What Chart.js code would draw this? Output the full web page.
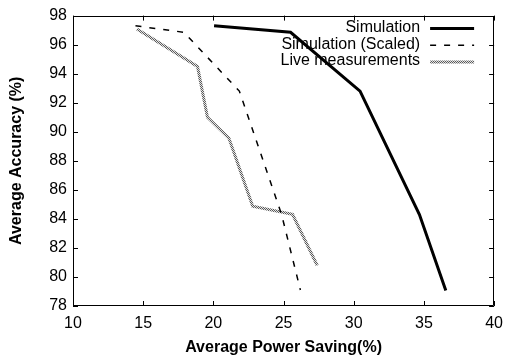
<!DOCTYPE html>
<html>
	<head>
		<meta charset="UTF-8">
		<title>Accuracy vs Power Saving</title>
		<script src="https://cdn.jsdelivr.net/npm/chart.js"></script>
		<style>
			*{margin:0; padding:0;}
			body{background:#fff;}
			#wrap{width:511px; height:358px;}
		</style>
	</head>
	<body>
		<div id="wrap"><canvas id="myChart" width="511" height="358"></canvas></div>
		<script>
			// data
			const seriesNames = ["Simulation", "Simulation (Scaled)", "Live measurements"];
			const simX = [20.05, 25.5, 30.45, 34.68, 36.56];
			const simY = [97.3, 96.85, 92.8, 84.3, 79.07];
			const scaledX = [14.45, 17.9, 21.85, 24.86, 26.2];
			const scaledY = [97.3, 96.85, 92.8, 84.3, 79.1];
			const liveX = [14.55, 18.87, 19.58, 21.11, 22.8, 25.64, 27.4];
			const liveY = [97.08, 94.5, 91.0, 89.55, 84.87, 84.31, 80.79];
			const xTickLabels = [10, 15, 20, 25, 30, 35, 40];
			const yTickLabels = [78, 80, 82, 84, 86, 88, 90, 92, 94, 96, 98];

			const FONT = "'Liberation Sans', Arial, Helvetica, sans-serif";

			function pts(xs, ys){
				let out = [];
				for(let i=0; i<xs.length; i++){
					out.push({x: xs[i], y: ys[i]});
				}
				return out;
			}

			// grey textured line like gnuplot's
			const pc = document.createElement('canvas');
			pc.width = 2; pc.height = 2;
			const pctx = pc.getContext('2d');
			pctx.fillStyle = '#e4e4e4'; pctx.fillRect(0,0,2,2);
			pctx.fillStyle = '#5a5a5a'; pctx.fillRect(0,0,1,1); pctx.fillRect(1,1,1,1);
			const livePattern = pctx.createPattern(pc, 'repeat');

			const styles = [
				{color:'#000', width:3, dash:[]},
				{color:'#000', width:1.5, dash:[6,8]},
				{color:livePattern, width:3, dash:[]}
			];

			// border on all four sides with inward ticks
			const framePlugin = {
				id: 'frame',
				afterDraw(chart){
					const c = chart.ctx, a = chart.chartArea;
					const xs = chart.scales.x, ys = chart.scales.y;
					c.save();
					c.strokeStyle = '#000';
					c.lineWidth = 1;
					c.beginPath();
					c.rect(Math.round(a.left)+0.5, Math.round(a.top)+0.5, Math.round(a.right-a.left)-1, Math.round(a.bottom-a.top)-1);
					xTickLabels.forEach(function(v){
						const px = Math.round(xs.getPixelForValue(v))+0.5;
						c.moveTo(px, a.bottom); c.lineTo(px, a.bottom-5);
						c.moveTo(px, a.top); c.lineTo(px, a.top+5);
					});
					yTickLabels.forEach(function(v){
						const py = Math.round(ys.getPixelForValue(v))+0.5;
						c.moveTo(a.left, py); c.lineTo(a.left+5, py);
						c.moveTo(a.right, py); c.lineTo(a.right-5, py);
					});
					c.stroke();
					c.restore();
				}
			};

			// legend top right inside the plot, text right aligned
			const keyPlugin = {
				id: 'key',
				beforeDatasetsDraw(chart){
					const c = chart.ctx, a = chart.chartArea;
					const textRight = a.right - 74;
					const lineL = a.right - 64, lineR = a.right - 20;
					c.save();
					c.font = '16px ' + FONT;
					c.textAlign = 'right';
					c.textBaseline = 'middle';
					seriesNames.forEach(function(name, i){
						const y = a.top + 12 + i*16.7;
						c.fillStyle = '#000';
						c.fillText(name, textRight, y);
						c.strokeStyle = styles[i].color;
						c.lineWidth = styles[i].width;
						c.setLineDash(styles[i].dash);
						c.beginPath();
						c.moveTo(lineL, y+1); c.lineTo(lineR, y+1);
						c.stroke();
					});
					c.restore();
				}
			};

			const sets = [pts(simX, simY), pts(scaledX, scaledY), pts(liveX, liveY)];

			new Chart(document.getElementById('myChart'), {
				type: 'scatter',
				data: {
					datasets: sets.map(function(d, i){
						return {
							label: seriesNames[i],
							data: d,
							showLine: true,
							borderColor: styles[i].color,
							borderWidth: styles[i].width,
							borderDash: styles[i].dash,
							pointRadius: 0,
							tension: 0,
							fill: false
						};
					})
				},
				options: {
					responsive: false,
					animation: false,
					devicePixelRatio: 1,
					layout: {padding: {left:0, top:7, right:14, bottom:0}},
					plugins: {legend:{display:false}, tooltip:{enabled:false}, title:{display:false}},
					scales: {
						x: {
							type: 'linear', min: 10, max: 40,
							afterBuildTicks: function(s){ s.ticks = xTickLabels.map(function(v){ return {value:v}; }); },
							afterFit: function(s){ s.height = 52; },
							grid: {display:false, drawTicks:false},
							border: {display:false},
							ticks: {color:'#000', font:{family:FONT, size:16}, padding:8, maxRotation:0},
							title: {display:true, text:'Average Power Saving(%)', color:'#000', font:{family:FONT, size:16, weight:'bold'}, padding:{top:0, bottom:1}}
						},
						y: {
							type: 'linear', min: 78, max: 98,
							afterBuildTicks: function(s){ s.ticks = yTickLabels.map(function(v){ return {value:v}; }); },
							afterFit: function(s){ s.width = 73; },
							grid: {display:false, drawTicks:false},
							border: {display:false},
							ticks: {color:'#000', font:{family:FONT, size:16}, padding:6},
							title: {display:true, text:'Average Accuracy (%)', color:'#000', font:{family:FONT, size:16, weight:'bold'}, padding:{top:7, bottom:0}}
						}
					}
				},
				plugins: [keyPlugin, framePlugin]
			});
		</script>
	</body>
</html>
